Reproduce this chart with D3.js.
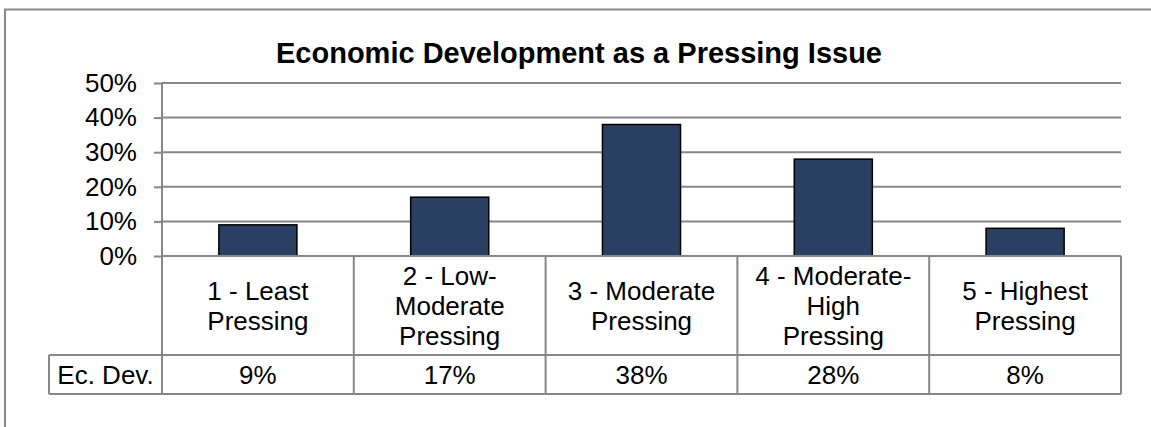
<!DOCTYPE html>
<html>
<head>
<meta charset="utf-8">
<script src="https://cdn.jsdelivr.net/npm/d3@7"></script>
<style>
  html, body { margin: 0; padding: 0; background: #fff; }
  svg { display: block; font-family: "Liberation Sans", Arial, sans-serif; }
</style>
</head>
<body>
<svg id="chart" width="1151" height="427"></svg>
<script>
// Chart data
const categories = [
  ["1 - Least", "Pressing"],
  ["2 - Low-", "Moderate", "Pressing"],
  ["3 - Moderate", "Pressing"],
  ["4 - Moderate-", "High", "Pressing"],
  ["5 - Highest", "Pressing"]
];
const seriesName = "Ec. Dev.";
const values = [0.09, 0.17, 0.38, 0.28, 0.08];
const yTicks = [0, 0.1, 0.2, 0.3, 0.4, 0.5];
const title = "Economic Development as a Pressing Issue";

const svg = d3.select("#chart");
const gridColor = "#878787";
const barColor = "#2a4062";
const labelSize = 26;

const plotLeft = 162, plotRight = 1121, plotTop = 83, plotBottom = 256;
const rowBottom = 355, tableBottom = 394, legendLeft = 49;

const keys = categories.map((c, i) => i);
const x = d3.scaleBand().domain(keys).range([plotLeft, plotRight]).padding(0);
const y = d3.scaleLinear().domain([0, 0.5]).range([plotBottom, plotTop]);
const barW = x.bandwidth() * 0.407;

// chart area border
svg.append("rect")
  .attr("x", 5).attr("y", 9.5).attr("width", 1300).attr("height", 600)
  .attr("fill", "none").attr("stroke", gridColor).attr("stroke-width", 2);

// title
svg.append("text")
  .attr("x", 579).attr("y", 63)
  .attr("text-anchor", "middle")
  .attr("font-weight", "bold").attr("font-size", 29)
  .text(title);

// gridlines
svg.append("g").selectAll("line").data(yTicks.slice(1)).join("line")
  .attr("x1", plotLeft).attr("x2", plotRight)
  .attr("y1", d => y(d)).attr("y2", d => y(d))
  .attr("stroke", gridColor).attr("stroke-width", 2);

// y axis
const yAxis = d3.axisLeft(y).tickValues(yTicks).tickFormat(d3.format(".0%"))
  .tickSize(8).tickPadding(17);
const gy = svg.append("g").attr("transform", `translate(${plotLeft},0)`).call(yAxis);
gy.select(".domain").remove();
gy.selectAll(".tick line").attr("stroke", gridColor).attr("stroke-width", 2);
gy.selectAll(".tick text").attr("font-size", labelSize).attr("fill", "#000")
  .attr("font-family", "Liberation Sans, Arial, sans-serif");

// bars
svg.append("g").selectAll("rect").data(values).join("rect")
  .attr("x", (d, i) => x(i) + (x.bandwidth() - barW) / 2)
  .attr("width", barW)
  .attr("y", d => y(d))
  .attr("height", d => y(0) - y(d))
  .attr("fill", barColor).attr("stroke", "#000").attr("stroke-width", 1.5);

// data table lines
const table = svg.append("g").attr("stroke", gridColor).attr("stroke-width", 2);
table.append("line").attr("x1", plotLeft).attr("x2", plotRight).attr("y1", plotBottom).attr("y2", plotBottom);
table.append("line").attr("x1", legendLeft).attr("x2", plotRight).attr("y1", rowBottom).attr("y2", rowBottom);
table.append("line").attr("x1", legendLeft).attr("x2", plotRight).attr("y1", tableBottom).attr("y2", tableBottom);
table.append("line").attr("x1", legendLeft).attr("x2", legendLeft).attr("y1", rowBottom).attr("y2", tableBottom);
table.append("line").attr("x1", plotLeft).attr("x2", plotLeft).attr("y1", plotTop).attr("y2", tableBottom);
table.selectAll(".sep").data(keys).join("line")
  .attr("x1", i => x(i) + x.bandwidth()).attr("x2", i => x(i) + x.bandwidth())
  .attr("y1", plotBottom).attr("y2", tableBottom);

// category labels
const lineH = 30;
const catG = svg.append("g").attr("font-size", labelSize).attr("text-anchor", "middle");
categories.forEach((lines, i) => {
  const cx = x(i) + x.bandwidth() / 2;
  const cy = (plotBottom + rowBottom) / 2;
  const t = catG.append("text").attr("x", cx)
    .attr("y", cy - (lines.length - 1) * lineH / 2);
  lines.forEach((ln, k) => {
    t.append("tspan").attr("x", cx).attr("dy", k === 0 ? "0.35em" : lineH).text(ln);
  });
});

// table values row
const valG = svg.append("g").attr("font-size", labelSize).attr("text-anchor", "middle");
valG.append("text").attr("x", (legendLeft + plotLeft) / 2).attr("y", (rowBottom + tableBottom) / 2)
  .attr("dy", "0.35em").text(seriesName);
valG.selectAll(".v").data(values).join("text")
  .attr("x", (d, i) => x(i) + x.bandwidth() / 2)
  .attr("y", (rowBottom + tableBottom) / 2).attr("dy", "0.35em")
  .text(d => d3.format(".0%")(d));
</script>
</body>
</html>
